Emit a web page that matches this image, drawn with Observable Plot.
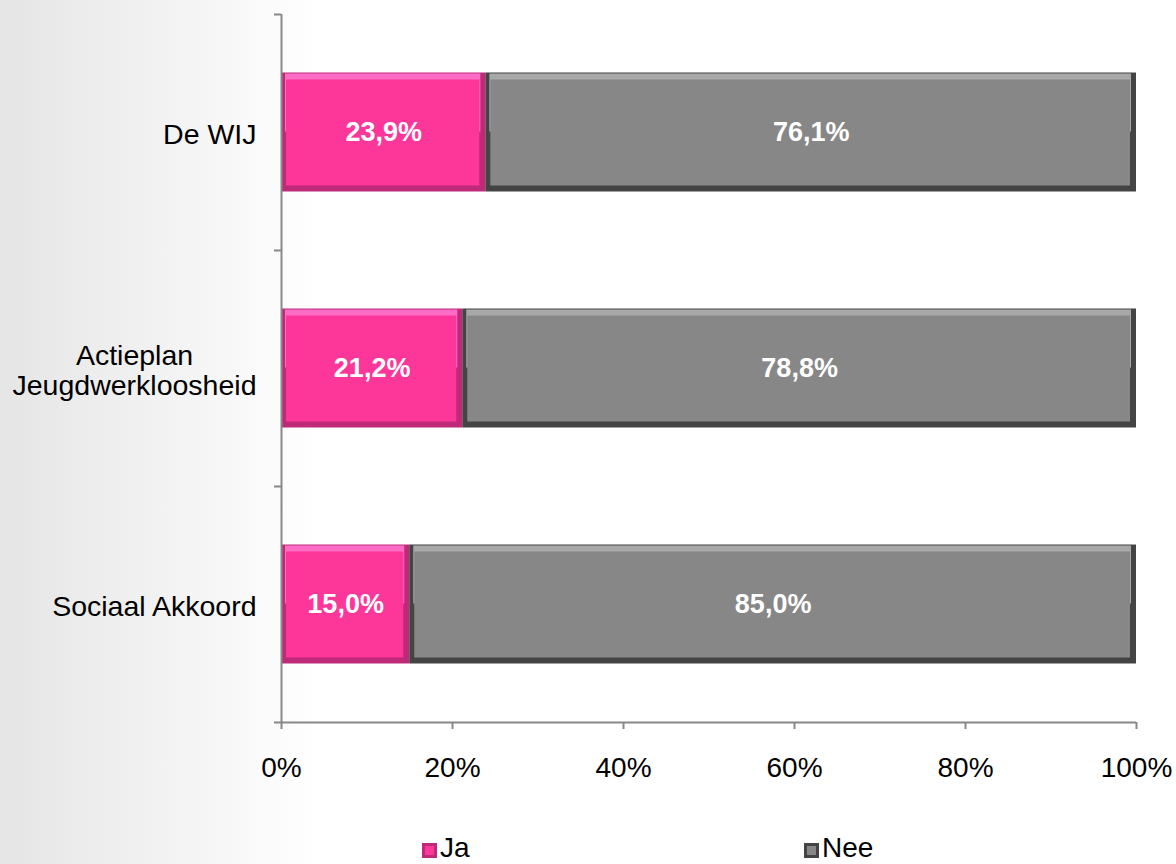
<!DOCTYPE html>
<html>
<head>
<meta charset="utf-8">
<script src="https://cdn.jsdelivr.net/npm/d3@7"></script>
<script src="https://cdn.jsdelivr.net/npm/@observablehq/plot@0.6"></script>
<style>
  html, body { margin: 0; padding: 0; }
  body {
    width: 1176px; height: 864px; overflow: hidden;
    font-family: "Liberation Sans", Arial, sans-serif;
    background:
      linear-gradient(to right, #e5e5e5 0px, #eeeeee 110px, #f5f5f5 200px, #fbfbfb 270px, #ffffff 320px, #ffffff 100%);
  }
  #chart svg { display: block; background: transparent; }
  #legend { position: relative; height: 32px; font-size: 28px; color: #000; }
  .lg { position: absolute; top: 1px; height: 30px; line-height: 30px; display: flex; align-items: center; }
  .sw { width: 15px; height: 15px; margin-right: 3px; margin-top: 4px; box-sizing: border-box; }
</style>
</head>
<body>
<div id="chart"></div>
<div id="legend"></div>
<script>
// ---- data ----
const categories = ["De WIJ", "Actieplan\nJeugdwerkloosheid", "Sociaal Akkoord"];
const ja  = [23.9, 21.2, 15.0];
const nee = [76.1, 78.8, 85.0];
const seriesNames = ["Ja", "Nee"];
const xTicks = [0, 20, 40, 60, 80, 100];

const colors = {
  Ja:  {main: "#FD3699", dark: "#BE2A78", light: "#FF6CC6"},
  Nee: {main: "#878787", dark: "#444444", light: "#A8A8A8"}
};

// build table
const rows = [];
categories.forEach((c, i) => {
  rows.push({cat: c, idx: i, series: "Ja",  x1: 0, x2: ja[i], value: ja[i]});
  rows.push({cat: c, idx: i, series: "Nee", x1: ja[i], x2: ja[i] + nee[i], value: nee[i]});
});
const catRows = categories.map((c, i) => ({cat: c, idx: i}));
const fmt = v => v.toFixed(1).replace(".", ",") + "%";

const barInset = 58.5;
const yBand = {y1: d => d.idx, y2: d => d.idx + 1};

const chart = Plot.plot({
  width: 1176,
  height: 832,
  marginLeft: 281,
  marginRight: 40,
  marginTop: 14,
  marginBottom: 110,
  style: {fontFamily: "Liberation Sans, Arial, sans-serif", background: "transparent"},
  x: {domain: [0, 100]},
  y: {domain: [0, categories.length], reverse: true},
  marks: [
    // bar bevel layers
    Plot.rectX(rows, {x1: "x1", x2: "x2", ...yBand,
      insetTop: barInset, insetBottom: barInset,
      fill: d => colors[d.series].dark}),
    Plot.rectX(rows, {x1: "x1", x2: "x2", ...yBand,
      insetTop: barInset + 1, insetBottom: barInset + 60, insetLeft: 4, insetRight: 5,
      fill: d => colors[d.series].light}),
    Plot.rectX(rows, {x1: "x1", x2: "x2", ...yBand,
      insetTop: barInset + 7, insetBottom: barInset + 6, insetLeft: 5, insetRight: 6,
      fill: d => colors[d.series].main}),
    // value labels
    Plot.text(rows, {x: d => (d.x1 + d.x2) / 2, y: d => d.idx + 0.5, text: d => fmt(d.value),
      fill: "white", fontWeight: "bold", fontSize: 27}),
    // axes
    Plot.ruleX([0], {stroke: "#888", strokeWidth: 2}),
    Plot.ruleY([categories.length], {stroke: "#888", strokeWidth: 2, x1: 0, x2: 100}),
    Plot.axisX({ticks: xTicks, tickFormat: d => d + "%", tickSize: 7, tickPadding: 28,
      fontSize: 28, color: "#000", stroke: "#888", strokeWidth: 2, label: null}),
    Plot.axisY({ticks: d3.range(categories.length + 1), tickFormat: () => "", tickSize: 7,
      stroke: "#888", strokeWidth: 2, label: null}),
    // category labels
    Plot.text(catRows, {x: 0, y: d => d.idx + 0.5, text: "cat", textAnchor: "end", dx: -25,
      fontSize: 28.5, fill: "#000", lineHeight: 1.05, dy: 2, className: "catlabel"})
  ]
});
document.getElementById("chart").appendChild(chart);

// center multi-line category labels within their right-aligned block
chart.querySelectorAll(".catlabel text").forEach(t => {
  const spans = t.querySelectorAll("tspan");
  if (spans.length > 1) {
    const bb = t.getBBox();
    const cx = bb.x + bb.width / 2;
    t.setAttribute("text-anchor", "middle");
    spans.forEach(s => s.setAttribute("x", cx));
  }
});

// legend
const legend = document.getElementById("legend");
const legendX = {Ja: 422, Nee: 804};
seriesNames.forEach(s => {
  const el = document.createElement("div");
  el.className = "lg";
  el.style.left = legendX[s] + "px";
  const sw = document.createElement("div");
  sw.className = "sw";
  sw.style.background = colors[s].main;
  sw.style.border = "3px solid " + colors[s].dark;
  const tx = document.createElement("span");
  tx.textContent = s;
  el.appendChild(sw); el.appendChild(tx);
  legend.appendChild(el);
});
</script>
</body>
</html>
